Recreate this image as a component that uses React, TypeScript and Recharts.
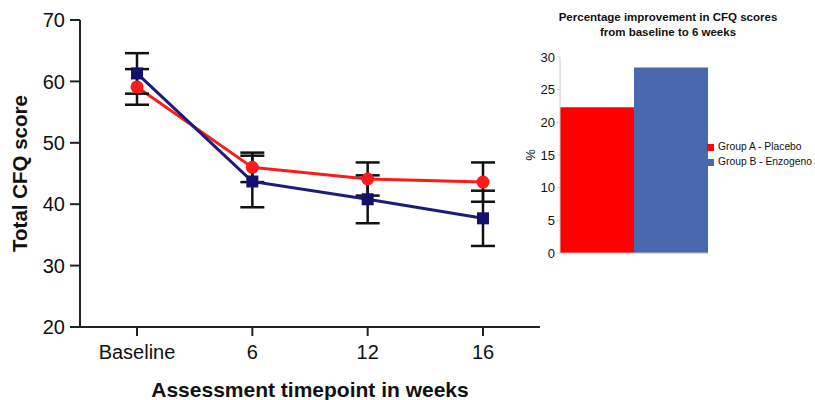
import React from 'react';
import {
  LineChart,
  Line,
  XAxis,
  YAxis,
  ErrorBar,
  BarChart,
  Bar,
  Legend,
} from 'recharts';

const timepoints = ['Baseline', '6', '12', '16'];
const placebo = [59.1, 46.0, 44.1, 43.6];
const placeboErr = [2.9, 2.4, 2.7, 3.2];
const enzogeno = [61.3, 43.7, 40.8, 37.7];
const enzogenoErr = [3.3, 4.2, 3.9, 4.5];
const yTicks = [20, 30, 40, 50, 60, 70];

const improvePlacebo = 22.3;
const improveEnzogeno = 28.4;
const insetTicks = [0, 5, 10, 15, 20, 25, 30];

const lineData = timepoints.map((t, i) => ({
  name: t,
  placebo: placebo[i],
  placeboErr: placeboErr[i],
  enzogeno: enzogeno[i],
  enzogenoErr: enzogenoErr[i],
}));

const barData = [{ name: '', placebo: improvePlacebo, enzogeno: improveEnzogeno }];

const SquareDot = (props: any) => {
  const { cx, cy } = props;
  if (cx == null || cy == null) return null;
  return <rect x={cx - 6} y={cy - 6} width={12} height={12} fill="#12126e" />;
};

export default function App() {
  return (
    <div
      style={{
        position: 'absolute',
        left: 0,
        top: 0,
        width: 815,
        height: 400,
        background: '#fff',
        fontFamily: '"Liberation Sans", Arial, sans-serif',
      }}
    >
      <div style={{ position: 'absolute', left: 0, top: 0 }}>
        <LineChart
          width={560}
          height={400}
          data={lineData}
          margin={{ top: 20, right: 20, bottom: 0, left: 0 }}
        >
          <XAxis
            dataKey="name"
            padding={{ left: 57, right: 57 }}
            height={73}
            tickSize={9}
            tickMargin={9}
            stroke="#222"
            strokeWidth={2}
            tick={{ fontSize: 20, fill: '#111' }}
            label={{
              value: 'Assessment timepoint in weeks',
              position: 'insideBottom',
              offset: 3,
              fontSize: 21,
              fontWeight: 'bold',
              fill: '#111',
            }}
          />
          <YAxis
            width={80}
            domain={[20, 70]}
            ticks={yTicks}
            tickSize={10}
            tickMargin={5}
            stroke="#222"
            strokeWidth={2}
            tick={{ fontSize: 20, fill: '#111' }}
            label={{
              value: 'Total CFQ score',
              angle: -90,
              position: 'center',
              dx: -20,
              fontSize: 20.5,
              fontWeight: 'bold',
              fill: '#111',
            }}
          />
          <Line
            dataKey="placebo"
            name="Group A - Placebo"
            stroke="#ff1a1a"
            strokeWidth={3}
            dot={{ r: 6.5, fill: '#ff1a1a', stroke: '#ff1a1a', strokeWidth: 0 }}
            isAnimationActive={false}
          >
            <ErrorBar dataKey="placeboErr" width={12} stroke="#111" strokeWidth={2.5} />
          </Line>
          <Line
            dataKey="enzogeno"
            name="Group B - Enzogeno"
            stroke="#1c1c78"
            strokeWidth={3}
            dot={<SquareDot />}
            isAnimationActive={false}
          >
            <ErrorBar dataKey="enzogenoErr" width={12} stroke="#111" strokeWidth={2.5} />
          </Line>
        </LineChart>
      </div>

      <div
        style={{
          position: 'absolute',
          left: 520,
          top: 10,
          width: 296,
          textAlign: 'center',
          fontSize: 11.5,
          fontWeight: 'bold',
          lineHeight: '15px',
          color: '#111',
        }}
      >
        Percentage improvement in CFQ scores
        <br />
        from baseline to 6 weeks
      </div>

      <div style={{ position: 'absolute', left: 520, top: 0 }}>
        <BarChart
          width={295}
          height={270}
          data={barData}
          barCategoryGap={0}
          barGap={0}
          margin={{ top: 57, right: 107, bottom: 0, left: 0 }}
        >
          <XAxis dataKey="name" tick={false} tickLine={false} height={17} stroke="#bbb" />
          <YAxis
            width={40}
            domain={[0, 30]}
            ticks={insetTicks}
            tickSize={3}
            tickMargin={2}
            stroke="#ccc"
            tick={{ fontSize: 13, fill: '#111' }}
            label={{ value: '%', angle: -90, position: 'center', dx: -10, fontSize: 13, fill: '#111' }}
          />
          <Bar dataKey="placebo" name="Group A - Placebo" fill="#ff0000" isAnimationActive={false} />
          <Bar dataKey="enzogeno" name="Group B - Enzogeno" fill="#4a68ad" isAnimationActive={false} />
          <Legend
            layout="vertical"
            align="center"
            verticalAlign="middle"
            iconType="square"
            iconSize={7}
            formatter={(v: any) => <span style={{ color: '#111' }}>{v}</span>}
            wrapperStyle={{
              left: 187,
              top: 139,
              width: 130,
              fontSize: 10.3,
              lineHeight: '15px',
              whiteSpace: 'nowrap',
              textAlign: 'left',
            }}
          />
        </BarChart>
      </div>
    </div>
  );
}
